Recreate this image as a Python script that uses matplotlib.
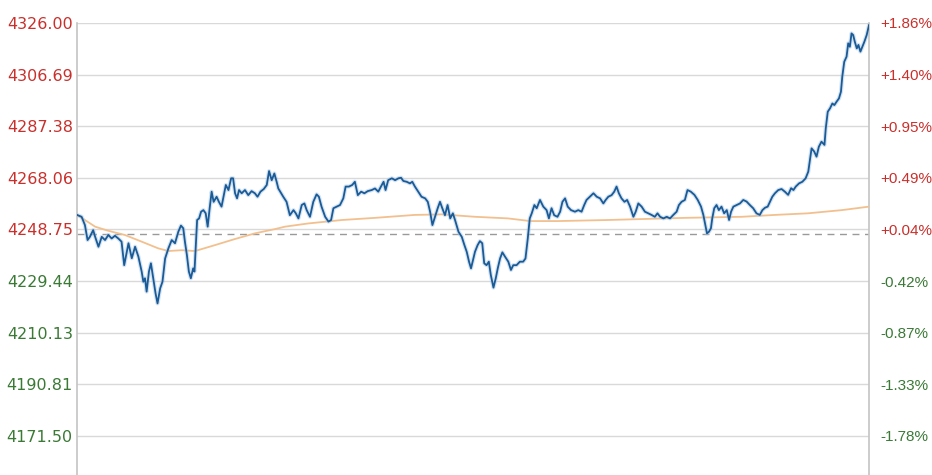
import matplotlib
matplotlib.use("Agg")
import matplotlib.pyplot as plt

# ---- data (minutes since open, index level) ----
price_min = [0, 1.4, 2.4, 3.2, 3.9, 4.9, 5.5, 6.5, 7.5, 8.5, 9.5, 10.5, 11.5, 12.5, 13.5,
             14.3, 15.1, 15.6, 16.6, 17.6, 18.6, 19.6, 20.1, 20.6, 21.1, 21.8, 22.4, 23.1,
             23.8, 24.4, 25.2, 25.9, 26.7, 27.7, 28.7, 29.7, 30.7, 31.5, 32.2, 32.7, 33.3,
             33.9, 34.5, 35.2, 35.6, 36.0, 36.4, 37.0, 37.6, 38.3, 39.0, 39.6, 40.2, 40.8,
             41.4, 42.3, 43.0, 43.8, 44.4, 45.1, 45.9, 46.7, 47.3, 47.9, 48.5, 49.1, 49.9,
             50.9, 51.9, 52.9, 53.9, 54.7, 55.6, 56.6, 57.5, 58.2, 59.0, 59.8, 60.5,
             61.0, 62.5, 63.5, 64.5, 65.6, 66.3, 67.1, 68.1, 68.9, 69.6, 70.6, 71.6, 72.6,
             73.3, 74.1, 75.2, 76.2, 77.0, 77.7, 78.7, 79.7, 80.7, 81.4, 82.4, 83.4, 84.2,
             85.1, 86.1, 87.1, 88.1, 89.3, 90.3, 91.3, 92.1, 92.9, 93.5, 94.3, 95.4, 96.4,
             97.4, 98.2, 98.9, 99.9, 100.9, 101.6, 102.4, 103.4, 104.4, 105.5, 106.3, 107.0,
             107.7, 108.5, 109.3, 110.0, 110.7, 111.5, 112.3, 113.1, 113.9, 114.7, 115.6,
             116.6, 117.4, 118.1, 118.8, 119.4,
             120.6, 121.4, 122.1, 122.8, 123.4, 124.1, 124.8, 125.4, 126.2, 126.9, 127.5,
             128.2, 128.9, 129.7, 130.7, 131.5, 132.2, 133.2, 134.2, 135.2, 135.9, 136.6,
             137.2, 137.8, 138.6, 139.3, 140.3, 141.3, 142.3, 143.0, 143.8, 144.6, 145.6,
             146.4, 147.1, 147.9, 148.7, 149.7, 150.9, 151.9, 152.9, 153.7, 154.4, 155.4,
             156.5, 157.5, 158.5, 159.5, 160.2, 161.0, 162.0, 162.8, 163.5, 164.2, 165.0,
             165.9, 166.7, 167.6, 168.6, 169.3, 170.1, 171.1, 172.1, 173.1, 174.1, 175.1,
             175.9, 176.7, 177.7, 178.7, 179.7, 180.7, 181.7, 182.4, 183.2, 184.2,
             185.0, 186.0, 187.1, 188.1, 189.1, 189.8, 190.5, 190.9, 191.5, 192.1, 192.5,
             193.1, 193.8, 194.5, 195.3, 196.1, 196.9, 197.6, 198.2, 198.9, 199.9, 200.9,
             201.9, 202.9, 203.9, 204.9, 205.9, 206.9, 207.7, 208.5, 209.3, 210.0, 210.7,
             211.5, 212.5, 213.5, 214.5, 215.5, 216.4, 217.1, 217.8, 218.8, 219.8, 220.8,
             221.6, 222.1, 222.6, 223.4, 224.1, 224.8, 225.6, 226.5, 226.9, 227.5, 228.2,
             228.9, 229.5, 230.2, 230.9, 231.5, 231.9, 232.5, 233.2, 233.7, 234.2, 234.7,
             235.2, 235.7, 236.3, 236.8, 237.4, 238.0, 238.6, 239.3, 240.0]
price_val = [4254.2, 4253.5, 4250.4, 4244.8, 4246.0, 4248.5, 4246.0, 4242.3, 4246.0, 4244.8,
             4246.7, 4245.4, 4246.4, 4245.4, 4244.2, 4235.4, 4240.4, 4243.6, 4238.0, 4242.3,
             4238.6, 4233.0, 4229.2, 4230.5, 4225.5, 4233.0, 4236.1, 4230.5, 4224.9, 4221.1,
             4226.7, 4229.2, 4237.9, 4241.7, 4244.8, 4243.6, 4247.9, 4250.2, 4249.2, 4244.2,
             4239.2, 4233.0, 4230.5, 4234.2, 4233.0, 4242.9, 4252.3, 4252.9, 4255.4, 4256.0,
             4254.8, 4249.8, 4256.7, 4262.9, 4259.1, 4261.0, 4259.1, 4257.3, 4261.0, 4265.4,
             4263.5, 4267.9, 4267.9, 4262.3, 4260.4, 4263.5, 4262.3, 4263.5, 4261.6, 4263.1,
             4262.3, 4261.0, 4262.9, 4263.9, 4265.4, 4270.6, 4267.2, 4269.7, 4266.6,
             4264.1, 4261.0, 4259.1, 4254.1, 4256.0, 4254.8, 4252.9, 4257.9, 4258.5, 4256.0,
             4253.5, 4259.1, 4261.9, 4261.0, 4257.3, 4253.5, 4251.7, 4252.3, 4256.7, 4257.3,
             4257.9, 4260.4, 4264.8, 4264.8, 4265.4, 4266.6, 4261.6, 4262.9, 4262.3, 4263.1,
             4263.5, 4264.1, 4262.9, 4264.8, 4266.6, 4263.5, 4267.2, 4267.9, 4267.2, 4267.9,
             4268.1, 4266.9, 4266.6, 4266.0, 4266.6, 4264.8, 4262.9, 4261.0, 4260.4, 4259.1,
             4255.4, 4250.4, 4253.5, 4256.7, 4259.1, 4256.7, 4254.1, 4257.9, 4252.9, 4254.8,
             4251.7, 4247.9, 4246.0, 4242.9, 4240.4, 4236.7, 4234.2,
             4240.4, 4242.9, 4244.4, 4243.6, 4236.1, 4235.4, 4236.7, 4231.7, 4227.0, 4230.5,
             4234.2, 4237.9, 4240.2, 4238.6, 4236.7, 4233.6, 4235.4, 4235.4, 4236.7, 4236.7,
             4237.9, 4245.4, 4252.9, 4254.8, 4257.9, 4256.7, 4259.8, 4257.3, 4256.0, 4252.9,
             4256.7, 4254.1, 4253.5, 4255.4, 4259.1, 4260.4, 4257.3, 4256.0, 4255.4, 4256.0,
             4255.4, 4257.9, 4259.8, 4261.0, 4262.3, 4261.0, 4260.4, 4258.5, 4259.8, 4261.0,
             4261.6, 4262.9, 4264.8, 4262.3, 4260.4, 4259.1, 4259.8, 4257.3, 4253.5, 4255.4,
             4258.5, 4257.3, 4255.4, 4254.8, 4254.2, 4253.5, 4254.8, 4253.5, 4252.9, 4253.5,
             4252.9, 4254.2, 4255.4, 4257.9, 4259.1, 4259.8,
             4263.5, 4262.9, 4261.7, 4259.8, 4257.3, 4254.2, 4249.8, 4247.3, 4247.9, 4249.2,
             4252.9, 4256.7, 4257.9, 4256.0, 4257.3, 4254.8, 4256.0, 4252.3, 4255.4, 4257.3,
             4257.9, 4258.5, 4259.8, 4259.2, 4257.9, 4256.7, 4254.8, 4254.2, 4256.0, 4256.9,
             4257.3, 4259.2, 4261.0, 4262.3, 4263.5, 4263.9, 4262.9, 4261.7, 4264.2, 4263.5,
             4264.8, 4266.0, 4266.6, 4267.9, 4270.4, 4274.8, 4279.1, 4277.9, 4276.0, 4279.7,
             4281.6, 4280.4, 4286.6, 4292.8, 4294.1, 4295.9, 4295.3, 4296.6, 4297.8, 4300.3,
             4305.9, 4311.5, 4313.4, 4318.4, 4317.1, 4322.1, 4321.5, 4319.0, 4316.5, 4317.8,
             4315.3, 4317.1, 4319.0, 4321.5, 4325.2]

avg_min = [0, 2.4, 5.5, 9.4, 14.5, 19.6, 24.6, 27.7, 31.7, 35.8, 41.8, 47.9, 53.9, 60.0,
           63.0, 70.0, 80.3, 90.3, 102.4, 110.6, 120.6, 130.6, 137.3, 145.8, 160.9, 184.2,
           201.5, 211.5, 221.5, 231.8, 240.0]
avg_val = [4254.2, 4252.3, 4249.8, 4248.3, 4246.7, 4244.2, 4241.7, 4240.7, 4241.0, 4240.7,
           4242.9, 4245.2, 4247.3, 4248.9, 4249.8, 4251.0, 4252.3, 4253.1, 4254.2, 4254.4,
           4253.5, 4252.9, 4251.9, 4251.9, 4252.3, 4253.1, 4253.5, 4254.2, 4254.8, 4256.0,
           4257.3]

prev_close = 4247.2
tick_vals = [4326.00, 4306.69, 4287.38, 4268.06, 4248.75, 4229.44, 4210.13, 4190.81, 4171.50]
left_labels = ['4326.00', '4306.69', '4287.38', '4268.06', '4248.75',
               '4229.44', '4210.13', '4190.81', '4171.50']
right_labels = ['+1.86%', '+1.40%', '+0.95%', '+0.49%', '+0.04%',
                '-0.42%', '-0.87%', '-1.33%', '-1.78%']

RED = '#c9302c'
GREEN = '#3a7a35'

W, H = 932, 475
fig = plt.figure(figsize=(W / 100, H / 100), dpi=100)
fig.patch.set_facecolor('white')
ax = fig.add_axes([77 / W, 0, (869 - 77) / W, (475 - 23) / H])

ax.set_xlim(0, 240)
ax.set_ylim(4156.9, 4326.0)

for v in tick_vals:
    ax.axhline(v, color='#d9d9d9', lw=1.0, zorder=1)
ax.axhline(prev_close, color='#9a9a9a', lw=1.0, ls=(0, (5, 4)), zorder=2)

ax.plot(avg_min, avg_val, color='#f2c08e', lw=1.3, zorder=3)
ax.plot(price_min, price_val, color='#a9c8e6', lw=3.0, alpha=0.5, zorder=4,
        solid_joinstyle='round')
ax.plot(price_min, price_val, color='#1a5a96', lw=1.3, zorder=5, solid_joinstyle='round')

for s in ['top', 'bottom']:
    ax.spines[s].set_visible(False)
for s in ['left', 'right']:
    ax.spines[s].set_color('#c4c4c4')
    ax.spines[s].set_linewidth(1.2)

ax.set_xticks([])
ax.set_yticks(tick_vals)
ax.set_yticklabels(left_labels, family='DejaVu Sans', fontsize=11.5)
ax.tick_params(axis='y', length=0, pad=3)
for lab, v in zip(ax.get_yticklabels(), tick_vals):
    lab.set_color(RED if v > prev_close else GREEN)

ax2 = ax.twinx()
ax2.set_ylim(ax.get_ylim())
ax2.set_yticks(tick_vals)
ax2.set_yticklabels(right_labels, family='Liberation Sans', fontsize=11)
ax2.tick_params(axis='y', length=0, pad=8)
for lab, v in zip(ax2.get_yticklabels(), tick_vals):
    lab.set_color(RED if v > prev_close else GREEN)
for s in ['top', 'bottom', 'left', 'right']:
    ax2.spines[s].set_visible(False)

fig.savefig('out.png', dpi=100, facecolor='white')
